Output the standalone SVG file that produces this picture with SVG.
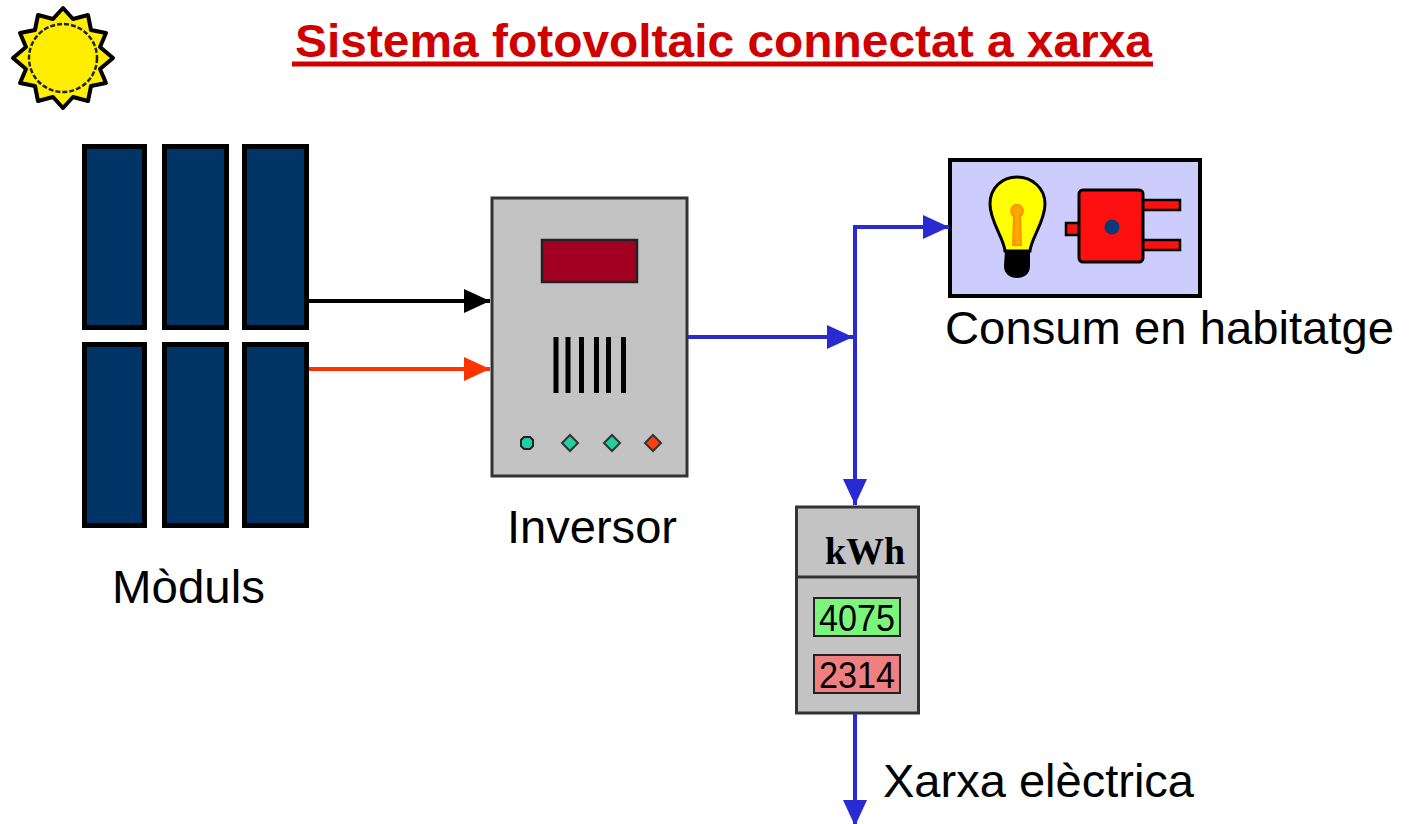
<svg xmlns="http://www.w3.org/2000/svg" width="1410" height="824" viewBox="0 0 1410 824">
  <style>
    .label { font-family: "Liberation Sans", Arial, sans-serif; font-size: 46px; fill: #000; }
    .title { font-family: "Liberation Sans", Arial, sans-serif; font-size: 47px; font-weight: bold; fill: #d00000; }
    .panel { fill: #003366; stroke: #000; stroke-width: 5; }
    .blue { stroke: #2a2ad2; stroke-width: 4; fill: none; }
    .digits { font-family: "Liberation Sans", Arial, sans-serif; font-size: 36px; fill: #000; }
  </style>
  <defs>
    <marker id="arrowBlack" markerUnits="userSpaceOnUse" markerWidth="28" markerHeight="26" refX="26" refY="12" orient="auto">
      <path d="M0,0 L26,12 L0,24 Z" fill="#000"/>
    </marker>
    <marker id="arrowRed" markerUnits="userSpaceOnUse" markerWidth="28" markerHeight="26" refX="26" refY="12" orient="auto">
      <path d="M0,0 L26,12 L0,24 Z" fill="#ff3300"/>
    </marker>
    <marker id="arrowBlue" markerUnits="userSpaceOnUse" markerWidth="28" markerHeight="26" refX="26" refY="12" orient="auto">
      <path d="M0,0 L26,12 L0,24 Z" fill="#2a2ad2"/>
    </marker>
  </defs>

  <rect width="1410" height="824" fill="#fff"/>

  <!-- sun -->
  <g id="sun">
    <polygon fill="#ffee00" stroke="#000" stroke-width="4" stroke-linejoin="round"
      points="63,8 73,19 88,15 91,30 106,33 100,47 113,58 100,69 106,83 91,86 88,101 73,97 63,108 53,97 38,101 35,86 20,83 26,69 13,58 26,47 20,33 35,30 38,15 53,19"/>
    <circle cx="63" cy="58" r="34" fill="#ffee00" stroke="#222" stroke-width="2.5" stroke-dasharray="5 2"/>
  </g>

  <!-- title -->
  <g id="title">
    <text class="title" x="295" y="57" textLength="857" lengthAdjust="spacingAndGlyphs">Sistema fotovoltaic connectat a xarxa</text>
    <rect x="292" y="61.5" width="861" height="5" fill="#d00000"/>
  </g>

  <!-- solar modules -->
  <g id="moduls">
    <rect class="panel" x="84.5" y="146.5" width="60" height="181"/>
    <rect class="panel" x="164.5" y="146.5" width="62" height="181"/>
    <rect class="panel" x="244.5" y="146.5" width="62" height="181"/>
    <rect class="panel" x="84.5" y="344.5" width="60" height="181"/>
    <rect class="panel" x="164.5" y="344.5" width="62" height="181"/>
    <rect class="panel" x="244.5" y="344.5" width="62" height="181"/>
    <text class="label" x="112" y="603" textLength="153" lengthAdjust="spacingAndGlyphs">Mòduls</text>
  </g>

  <!-- inverter -->
  <g id="inversor">
    <rect x="492" y="198" width="195" height="278" fill="#c3c3c3" stroke="#333" stroke-width="3"/>
    <rect x="542" y="240" width="95" height="42" fill="#a10020" stroke="#222" stroke-width="2.5"/>
    <g fill="#000">
      <rect x="553.5" y="337" width="5" height="56"/>
      <rect x="565.5" y="337" width="5" height="56"/>
      <rect x="579" y="337" width="5" height="56"/>
      <rect x="594" y="337" width="5" height="56"/>
      <rect x="606" y="337" width="5" height="56"/>
      <rect x="621" y="337" width="5" height="56"/>
    </g>
    <polygon points="524,437 530,437 533,440 533,446 530,449 524,449 521,446 521,440" fill="#20d0a0" stroke="#222" stroke-width="2"/>
    <polygon points="570,435 578,443 570,451 562,443" fill="#20d0a0" stroke="#333" stroke-width="2"/>
    <polygon points="612,435 620,443 612,451 604,443" fill="#20d0a0" stroke="#333" stroke-width="2"/>
    <polygon points="653,435 661,443 653,451 645,443" fill="#ff4010" stroke="#333" stroke-width="2"/>
    <text class="label" x="507" y="543" textLength="170" lengthAdjust="spacingAndGlyphs">Inversor</text>
  </g>

  <!-- household consumption -->
  <g id="consum">
    <rect x="950" y="160" width="250" height="136" fill="#ccccff" stroke="#000" stroke-width="4"/>
    <!-- bulb -->
    <path d="M1005,251 C1004,238 990,222 990,204 C990,188 1002,177 1017,177 C1032,177 1045,188 1045,204 C1045,222 1031,238 1030,251 Z" fill="#ffff00" stroke="#000" stroke-width="3"/>
    <path d="M1017,205 C1010,205 1010,214 1014,216 L1013,245 L1021,245 L1020,216 C1024,214 1024,205 1017,205 Z" fill="#ffa800" stroke="#ff9000" stroke-width="2"/>
    <path d="M1005,250 L1030,250 L1030,266 C1030,274 1024,278 1017,278 C1010,278 1004,274 1004,266 Z" fill="#000"/>
    <!-- plug -->
    <rect x="1066" y="223" width="13" height="12" fill="#ff1010" stroke="#000" stroke-width="2.5"/>
    <rect x="1142" y="200" width="38" height="10" fill="#ff1010" stroke="#000" stroke-width="2.5"/>
    <rect x="1142" y="240" width="38" height="10" fill="#ff1010" stroke="#000" stroke-width="2.5"/>
    <rect x="1079" y="190" width="64" height="72" rx="4" fill="#ff1010" stroke="#000" stroke-width="3"/>
    <circle cx="1112" cy="227" r="7.5" fill="#0c3a78"/>
    <text class="label" x="945" y="344" textLength="449" lengthAdjust="spacingAndGlyphs">Consum en habitatge</text>
  </g>

  <!-- energy meter -->
  <g id="comptador">
    <rect x="796.5" y="507" width="122" height="206" fill="#c3c3c3" stroke="#333" stroke-width="3"/>
    <line x1="796.5" y1="577" x2="918.5" y2="577" stroke="#333" stroke-width="3"/>
    <text x="825" y="564" font-family="Liberation Serif, 'Times New Roman', serif" font-size="37" font-weight="bold" textLength="80" lengthAdjust="spacingAndGlyphs">kWh</text>
    <rect x="814" y="598" width="86" height="38" fill="#7cf57c" stroke="#222" stroke-width="2"/>
    <text class="digits" x="819" y="631" textLength="76" lengthAdjust="spacingAndGlyphs">4075</text>
    <rect x="814" y="655" width="86" height="38" fill="#f08080" stroke="#222" stroke-width="2"/>
    <text class="digits" x="819" y="688" textLength="76" lengthAdjust="spacingAndGlyphs">2314</text>
  </g>

  <!-- grid label -->
  <g id="xarxa">
    <text class="label" x="883" y="797" textLength="311" lengthAdjust="spacingAndGlyphs">Xarxa elèctrica</text>
  </g>

  <!-- connectors -->
  <g id="connectors">
    <line x1="309" y1="301" x2="490" y2="301" stroke="#000" stroke-width="4" marker-end="url(#arrowBlack)"/>
    <line x1="309" y1="369" x2="490" y2="369" stroke="#ff3300" stroke-width="4" marker-end="url(#arrowRed)"/>
    <line class="blue" x1="688" y1="337" x2="853" y2="337" marker-end="url(#arrowBlue)"/>
    <polyline class="blue" points="855,505 855,227 949,227" marker-end="url(#arrowBlue)"/>
    <line class="blue" x1="855" y1="340" x2="855" y2="505" marker-end="url(#arrowBlue)"/>
    <line class="blue" x1="855" y1="713" x2="855" y2="826" marker-end="url(#arrowBlue)"/>
  </g>
</svg>
